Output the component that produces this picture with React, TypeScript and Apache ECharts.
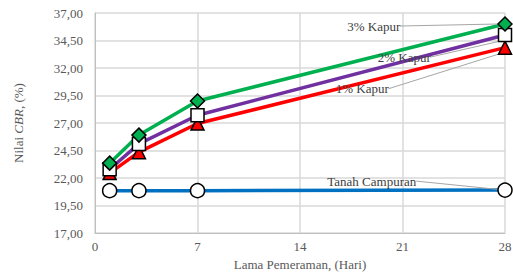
import React, { useEffect, useRef } from "react";
import * as echarts from "echarts";

const days = [1, 3, 7, 28];
const tanahCampuran = [20.85, 20.85, 20.85, 20.9];
const kapur1 = [22.45, 24.35, 26.95, 33.85];
const kapur2 = [22.8, 25.1, 27.7, 35.0];
const kapur3 = [23.35, 25.9, 29.0, 36.0];
const seriesNames = ["Tanah Campuran", "1% Kapur", "2% Kapur", "3% Kapur"];
const yTicks = { min: 17, max: 37, interval: 2.5 };
const xTicks = { min: 0, max: 28, interval: 7 };

const FONT = "Liberation Serif";

function mk(
  name: string,
  values: number[],
  color: string,
  symbol: string,
  fill: string,
  size: number,
  dx: number,
  dy: number
) {
  return {
    name,
    type: "line",
    data: values.map((v, i) => {
      const item: any = { value: [days[i], v] };
      if (i === values.length - 1) {
        item.label = {
          show: true,
          position: "left",
          distance: 5,
          formatter: name,
          color: "#404040",
          fontFamily: FONT,
          fontSize: 13,
        };
      }
      return item;
    }),
    lineStyle: { color, width: 3.5 },
    itemStyle: { color: fill, borderColor: "#000", borderWidth: 1.5 },
    symbol,
    symbolSize: size,
    label: { show: false },
    labelLayout: { dx, dy },
    labelLine: { show: true, lineStyle: { color: "#a6a6a6", width: 1 } },
    emphasis: { disabled: true },
    z: 2,
  };
}

export default function App() {
  const ref = useRef<HTMLDivElement>(null);
  useEffect(() => {
    const chart = echarts.init(ref.current!, undefined, { renderer: "svg" });
    chart.setOption({
      animation: false,
      textStyle: { fontFamily: FONT },
      grid: {
        left: 95,
        right: 8,
        top: 13,
        bottom: 42,
        containLabel: false,
        outerBoundsMode: "none",
      },
      xAxis: {
        type: "value",
        min: xTicks.min,
        max: xTicks.max,
        interval: xTicks.interval,
        name: "Lama Pemeraman, (Hari)",
        nameLocation: "middle",
        nameGap: 24,
        nameTextStyle: { color: "#595959", fontFamily: FONT, fontSize: 13 },
        axisLine: { show: true, lineStyle: { color: "#bfbfbf", width: 1 } },
        axisTick: { show: false },
        axisLabel: { color: "#595959", fontFamily: FONT, fontSize: 13, margin: 7 },
        splitLine: { show: true, lineStyle: { color: "#d9d9d9", width: 1.5 } },
      },
      yAxis: {
        type: "value",
        min: yTicks.min,
        max: yTicks.max,
        interval: yTicks.interval,
        name: "{a|Nilai }{b|CBR}{a|, (%)}",
        nameLocation: "middle",
        nameGap: 70,
        nameTextStyle: {
          color: "#595959",
          fontFamily: FONT,
          fontSize: 13,
          rich: {
            a: { color: "#595959", fontFamily: FONT, fontSize: 13 },
            b: { color: "#595959", fontFamily: FONT, fontSize: 13, fontStyle: "italic" },
          },
        },
        axisLine: { show: true, lineStyle: { color: "#bfbfbf", width: 1 } },
        axisTick: { show: false },
        axisLabel: {
          color: "#595959",
          fontFamily: FONT,
          fontSize: 13,
          margin: 12,
          formatter: (v: number) => v.toFixed(2).replace(".", ","),
        },
        splitLine: { show: true, lineStyle: { color: "#d9d9d9", width: 1.5 } },
      },
      series: [
        mk(seriesNames[0], tanahCampuran, "#0070c0", "circle", "#ffffff", 14, -76, -9),
        mk(seriesNames[1], kapur1, "#ff0000", "triangle", "#ff0000", 13, -104, 41),
        mk(seriesNames[2], kapur2, "#7030a0", "rect", "#ffffff", 13, -62, 22),
        mk(seriesNames[3], kapur3, "#00b050", "diamond", "#00b050", 14, -92, 2),
      ],
    });
    return () => chart.dispose();
  }, []);
  return (
    <div
      ref={ref}
      style={{ position: "absolute", left: 0, top: 0, width: 513, height: 275 }}
    />
  );
}
